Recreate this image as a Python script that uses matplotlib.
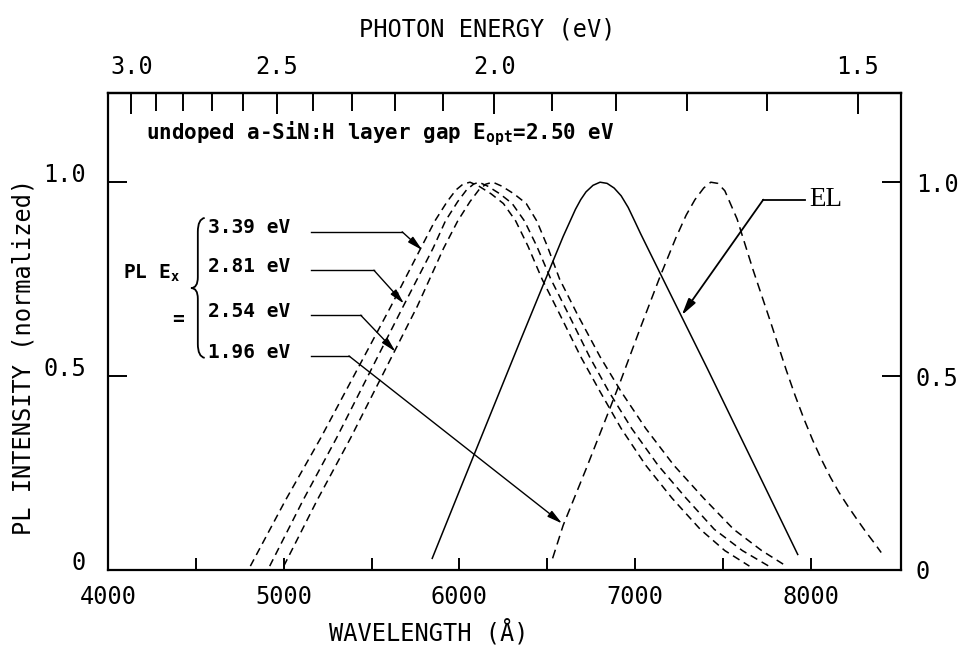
import numpy as np
import matplotlib
matplotlib.use("Agg")
import matplotlib.pyplot as plt
from matplotlib.path import Path
from matplotlib.patches import PathPatch

HC = 12398.4  # eV * Angstrom

# PL spectra for three excitation energies (wavelength in A, normalized intensity)
pl_339_wl = [4810, 5010, 5210, 5410, 5610, 5780, 5860, 5930, 5980, 6020, 6060, 6110, 6180,
             6250, 6320, 6390, 6470, 6570, 6690, 6800, 6920, 7060, 7210, 7370, 7510, 7650]
pl_281_wl = [4920, 5110, 5300, 5490, 5680, 5850, 5920, 5990, 6040, 6080, 6110, 6160, 6230,
             6300, 6370, 6440, 6520, 6620, 6740, 6850, 6980, 7130, 7290, 7450, 7610, 7760]
pl_254_wl = [5000, 5190, 5380, 5570, 5760, 5910, 5990, 6060, 6110, 6150, 6190, 6240, 6310,
             6380, 6440, 6500, 6570, 6670, 6800, 6920, 7060, 7220, 7390, 7560, 7720, 7860]
pl_339_int = [0.01, 0.18, 0.34, 0.51, 0.68, 0.83, 0.90, 0.95, 0.98, 0.995, 1.0, 0.99, 0.97,
              0.945, 0.90, 0.835, 0.75, 0.66, 0.55, 0.46, 0.365, 0.27, 0.185, 0.105, 0.05, 0.01]
pl_281_int = [0.01, 0.18, 0.34, 0.51, 0.68, 0.83, 0.90, 0.95, 0.98, 0.995, 1.0, 0.99, 0.97,
              0.945, 0.90, 0.835, 0.75, 0.66, 0.55, 0.46, 0.365, 0.27, 0.185, 0.105, 0.05, 0.01]
pl_254_int = [0.01, 0.18, 0.34, 0.51, 0.68, 0.83, 0.90, 0.95, 0.98, 0.995, 1.0, 0.99, 0.97,
              0.945, 0.90, 0.835, 0.75, 0.66, 0.55, 0.46, 0.365, 0.27, 0.185, 0.105, 0.05, 0.01]

# PL for 1.96 eV excitation
pl_196_wl = [6530, 6590, 6720, 6820, 6915, 7030, 7140, 7230, 7290, 7340, 7390, 7430, 7470,
             7510, 7580, 7670, 7770, 7860, 7910, 7960, 8010, 8060, 8110, 8160, 8210, 8260,
             8310, 8360, 8400]
pl_196_int = [0.03, 0.115, 0.26, 0.375, 0.485, 0.625, 0.755, 0.855, 0.915, 0.955, 0.985, 1.0,
              0.997, 0.978, 0.905, 0.775, 0.64, 0.515, 0.45, 0.39, 0.335, 0.285, 0.24, 0.20,
              0.165, 0.132, 0.10, 0.07, 0.045]

# electroluminescence
el_wl = [5845, 6005, 6175, 6345, 6490, 6590, 6630, 6660, 6690, 6720, 6760, 6800, 6840, 6880,
         6920, 6960, 7000, 7030, 7080, 7140, 7270, 7410, 7560, 7730, 7850, 7925]
el_int = [0.03, 0.21, 0.40, 0.59, 0.75, 0.86, 0.90, 0.93, 0.955, 0.975, 0.992, 1.0, 0.997,
          0.985, 0.965, 0.935, 0.897, 0.868, 0.822, 0.767, 0.648, 0.52, 0.38, 0.222, 0.11, 0.04]

wl_ticks = [4000, 5000, 6000, 7000, 8000]
wl_minor = [4500, 5500, 6500, 7500]
ev_major = [3.0, 2.5, 2.0, 1.5]
ev_minor = [2.9, 2.8, 2.7, 2.6, 2.4, 2.3, 2.2, 2.1, 1.9, 1.8, 1.7, 1.6]
int_ticks = [0, 0.5, 1.0]
int_labels = ["0", "0.5", "1.0"]

# label text, label height, corner of leader, arrow tip
excitations = [
    ("3.39 eV", 0.872, 5674, (5788, 0.825)),
    ("2.81 eV", 0.773, 5513, (5684, 0.687)),
    ("2.54 eV", 0.657, 5438, (5636, 0.563)),
    ("1.96 eV", 0.552, 5371, (6584, 0.120)),
]

MONO = "DejaVu Sans Mono"
plt.rcParams["font.family"] = MONO
plt.rcParams["mathtext.fontset"] = "custom"
plt.rcParams["mathtext.rm"] = MONO
plt.rcParams["mathtext.bf"] = MONO + ":bold"
plt.rcParams["lines.scale_dashes"] = False

fig = plt.figure(figsize=(9.68, 6.5), dpi=100)
ax = fig.add_axes([0.1116, 0.1231, 0.8187, 0.7338])
ax.set_xlim(4000, 8510)
ax.set_ylim(0, 1.23)

dash = (0, (5.5, 3.6))
lw = 1.1
ax.plot(pl_339_wl, pl_339_int, color="k", lw=lw, linestyle=dash)
ax.plot(pl_281_wl, pl_281_int, color="k", lw=lw, linestyle=dash)
ax.plot(pl_254_wl, pl_254_int, color="k", lw=lw, linestyle=dash)
ax.plot(pl_196_wl, pl_196_int, color="k", lw=lw, linestyle=(0, (6.5, 4.0)))
ax.plot(el_wl, el_int, color="k", lw=lw, linestyle="-")

for sp in ax.spines.values():
    sp.set_linewidth(1.6)

ax.set_xticks(wl_ticks)
ax.set_xticks(wl_minor, minor=True)
ax.tick_params(axis="x", which="both", direction="in", length=8.5, width=1.4,
               labelsize=17, pad=11)
ax.set_yticks(int_ticks)
ax.set_yticklabels(int_labels)
ax.tick_params(axis="y", which="both", direction="in", length=14, width=1.4,
               labelsize=17, pad=11, left=True, right=True, labelright=True,
               labelleft=False)

# left labels sit a little above their ticks
for v, s in zip(int_ticks, int_labels):
    ax.annotate(s, xy=(0, v), xycoords=("axes fraction", "data"),
                xytext=(-16, 5), textcoords="offset points",
                ha="right", va="center", fontsize=17)

top = ax.secondary_xaxis("top", functions=(lambda w: HC / np.asarray(w, float),
                                           lambda e: HC / np.asarray(e, float)))
top.set_xticks(ev_major)
top.set_xticklabels([f"{e:.1f}" for e in ev_major])
top.set_xticks(ev_minor, minor=True)
top.tick_params(which="major", direction="in", length=15, width=1.4, labelsize=17, pad=10)
top.tick_params(which="minor", direction="in", length=13, width=1.4)
top.spines["top"].set_linewidth(1.6)

fig.text(0.024, 0.451, "PL INTENSITY (normalized)", rotation=90, ha="center",
         va="center", fontsize=17)
fig.text(0.443, 0.028, "WAVELENGTH (Å)", ha="center", va="center", fontsize=17)
fig.text(0.503, 0.954, "PHOTON ENERGY (eV)", ha="center", va="center", fontsize=17)

ax.text(4215, 1.125, r"undoped a-SiN:H layer gap E$_{\mathbf{opt}}$=2.50 eV",
        fontsize=15, fontweight="bold", ha="left", va="center")

# excitation labels with leader arrows
for label, yv, corner, tip in excitations:
    ax.text(4570, yv + 0.01, label, fontsize=14, fontweight="bold", ha="left", va="center")
    ax.plot([5153, corner], [yv, yv], color="k", lw=1.0)
    ax.annotate("", xy=tip, xytext=(corner, yv),
                arrowprops=dict(arrowstyle="-|>,head_length=0.9,head_width=0.22",
                                color="k", lw=1.0, shrinkA=0, shrinkB=0))

ax.text(4085, 0.765, r"PL E$_{\mathbf{x}}$", fontsize=14, fontweight="bold",
        ha="left", va="center")
ax.text(4400, 0.645, "=", fontsize=14, fontweight="bold", ha="center", va="center")

brace = Path(
    [(4550, 0.908), (4511, 0.905), (4511, 0.872), (4511, 0.755),
     (4511, 0.727), (4472, 0.727), (4511, 0.727), (4511, 0.70),
     (4511, 0.583), (4511, 0.55), (4550, 0.547)],
    [Path.MOVETO, Path.CURVE3, Path.CURVE3, Path.LINETO,
     Path.CURVE3, Path.CURVE3, Path.CURVE3, Path.CURVE3,
     Path.LINETO, Path.CURVE3, Path.CURVE3])
ax.add_patch(PathPatch(brace, fill=False, lw=1.3, color="k"))

# EL pointer
ax.plot([7966, 7729], [0.955, 0.955], color="k", lw=1.3)
ax.annotate("", xy=(7265, 0.657), xytext=(7729, 0.955),
            arrowprops=dict(arrowstyle="-|>,head_length=1.0,head_width=0.25",
                            color="k", lw=1.3, shrinkA=0, shrinkB=0))
ax.text(7990, 0.955, "EL", family="Liberation Serif", fontsize=19.5,
        ha="left", va="center")

fig.savefig("out.png", dpi=100)
